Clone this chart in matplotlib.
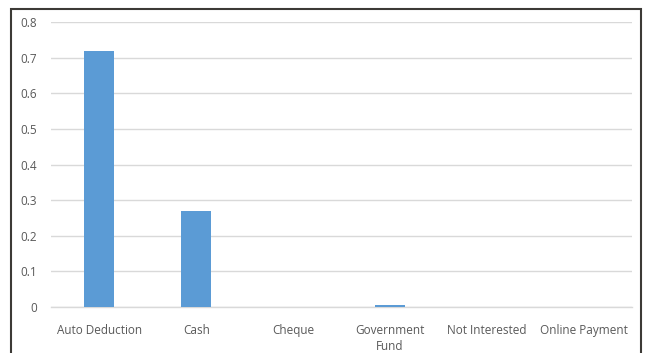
import matplotlib.pyplot as plt
from matplotlib.patches import Rectangle

# Datos del gráfico
categorias = ["Auto Deduction", "Cash", "Cheque", "Government\nFund",
              "Not Interested", "Online Payment"]
valores = [0.72, 0.27, 0.0, 0.006, 0.0, 0.0]
ticks_y = [0, 0.1, 0.2, 0.3, 0.4, 0.5, 0.6, 0.7, 0.8]

plt.rcParams['font.family'] = ['Open Sans', 'DejaVu Sans']

fig = plt.figure(figsize=(6.46, 3.53), dpi=100)
ax = fig.add_axes([51 / 646, 1 - 307 / 353, 581 / 646, 285 / 353])

x = list(range(len(categorias)))
ax.bar(x, valores, width=0.31, color='#5b9bd5', zorder=3)

ax.set_xlim(-0.5, len(categorias) - 0.5)
ax.set_ylim(0, 0.8)
ax.set_yticks(ticks_y)
ax.set_yticklabels([f"{v:g}" for v in ticks_y])
ax.set_xticks(x)
ax.set_xticklabels(categorias, linespacing=1.3)

ax.grid(axis='y', color='#d9d9d9', linewidth=1.0, zorder=0)
for lado in ['top', 'right', 'left']:
    ax.spines[lado].set_visible(False)
ax.spines['bottom'].set_color('#d9d9d9')
ax.spines['bottom'].set_linewidth(1.0)

ax.tick_params(axis='both', length=0, labelsize=8.5, labelcolor='#595959')
ax.tick_params(axis='y', pad=10)
ax.tick_params(axis='x', pad=12)

# Marco exterior del gráfico
marco = Rectangle((11 / 646, -0.1), 630 / 646, 1.1 - 9.5 / 353,
                  transform=fig.transFigure, fill=False,
                  edgecolor='#3c3a36', linewidth=1.5, clip_on=False)
fig.patches.append(marco)

fig.savefig('out.png', dpi=100)
